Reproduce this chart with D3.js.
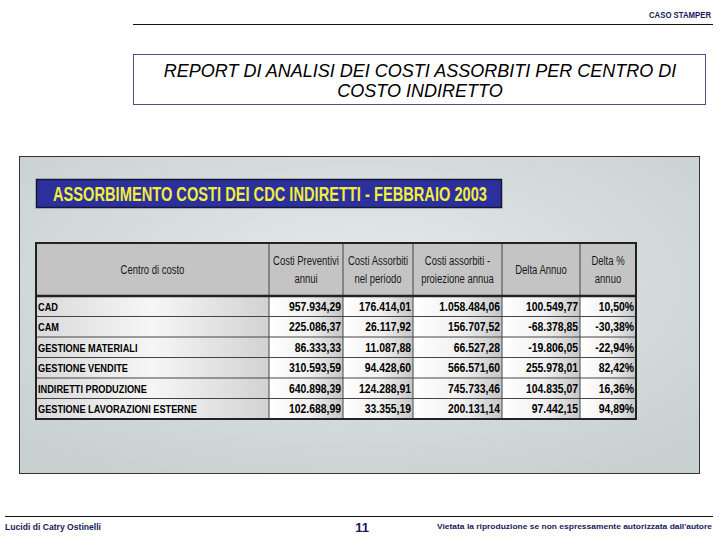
<!DOCTYPE html>
<html>
<head>
<meta charset="utf-8">
<script src="https://cdn.jsdelivr.net/npm/d3@7"></script>
<style>
  html, body { margin: 0; padding: 0; background: #fff; }
  svg { display: block; }
</style>
</head>
<body>
<svg id="slide"></svg>
<script>
// data
const slideTag = "CASO STAMPER"
const titleLines = ["REPORT DI ANALISI DEI COSTI ASSORBITI PER CENTRO DI", "COSTO INDIRETTO"]
const bannerText = "ASSORBIMENTO COSTI DEI CDC INDIRETTI - FEBBRAIO 2003"
const headers = [
  ["Centro di costo"],
  ["Costi Preventivi", "annui"],
  ["Costi Assorbiti", "nel periodo"],
  ["Costi assorbiti -", "proiezione annua"],
  ["Delta Annuo"],
  ["Delta %", "annuo"]
]
const centers = ["CAD", "CAM", "GESTIONE MATERIALI", "GESTIONE VENDITE", "INDIRETTI PRODUZIONE", "GESTIONE LAVORAZIONI ESTERNE"]
const costiPreventivi = [957934.29, 225086.37, 86333.33, 310593.59, 640898.39, 102688.99]
const costiAssorbiti = [176414.01, 26117.92, 11087.88, 94428.60, 124288.91, 33355.19]
const proiezioneAnnua = [1058484.06, 156707.52, 66527.28, 566571.60, 745733.46, 200131.14]
const deltaAnnuo = [100549.77, -68378.85, -19806.05, 255978.01, 104835.07, 97442.15]
const deltaPerc = [10.50, -30.38, -22.94, 82.42, 16.36, 94.89]
const footerLeft = "Lucidi di Catry Ostinelli"
const pageNumber = "11"
const footerRight = "Vietata la riproduzione se non espressamente autorizzata dall'autore"

const W = 720, H = 540
const svg = d3.select('#slide').attr('width', W).attr('height', H)
const defs = svg.append('defs')

const sans = '"Liberation Sans", Arial, sans-serif'

// italian number format, plain hyphen for negatives like the excel sheet
const it = d3.formatLocale({decimal: ',', thousands: '.', grouping: [3], currency: ['€', ''], minus: '-'})
const fmtNum = it.format(',.2f')
const fmtPct = v => it.format('.2f')(v) + '%'

// no Arial Narrow here: squeeze Arial-like glyphs horizontally
function condense(sel, k) {
  sel.each(function() {
    const w = this.getComputedTextLength()
    d3.select(this).attr('textLength', w * k).attr('lengthAdjust', 'spacingAndGlyphs')
  })
}
function fit(sel, w) {
  sel.attr('textLength', w).attr('lengthAdjust', 'spacingAndGlyphs')
}

// header ---------------------------------------------------------
svg.append('text')
  .attr('x', 711).attr('y', 18)
  .attr('text-anchor', 'end')
  .style('font-family', sans).style('font-weight', 'bold')
  .style('font-size', '8.5px').attr('fill', '#1a1a5a')
  .text(slideTag)
  .call(fit, 62)

svg.append('line')
  .attr('x1', 133).attr('x2', 713).attr('y1', 24.5).attr('y2', 24.5)
  .attr('stroke', '#111').attr('stroke-width', 1.2)

svg.append('rect')
  .attr('x', 133.5).attr('y', 54.5).attr('width', 572).attr('height', 50)
  .attr('fill', '#fff').attr('stroke', '#50507a').attr('stroke-width', 1)

svg.append('g').selectAll('text')
  .data(titleLines).enter()
  .append('text')
  .attr('x', 420).attr('y', (d, i) => 77 + i * 20)
  .attr('text-anchor', 'middle')
  .style('font-family', sans).style('font-style', 'italic')
  .style('font-size', '18px').attr('fill', '#000')
  .text(d => d)

// panel ----------------------------------------------------------
const bg = defs.append('radialGradient').attr('id', 'panelBg')
  .attr('cx', '0.5').attr('cy', '0.4').attr('r', '0.7')
bg.append('stop').attr('offset', '0%').attr('stop-color', '#e6eaea')
bg.append('stop').attr('offset', '100%').attr('stop-color', '#c8d0d0')

svg.append('rect')
  .attr('x', 19.5).attr('y', 156.5).attr('width', 680).attr('height', 317)
  .attr('fill', 'url(#panelBg)').attr('stroke', '#333').attr('stroke-width', 1)

// banner
svg.append('rect')
  .attr('x', 36.5).attr('y', 179.5).attr('width', 465).attr('height', 28)
  .attr('fill', '#2b309c').attr('stroke', '#15163a').attr('stroke-width', 1.5)

svg.append('text')
  .attr('x', 270).attr('y', 201)
  .attr('text-anchor', 'middle')
  .style('font-family', sans).style('font-weight', 'bold')
  .style('font-size', '20px').attr('fill', '#f2ee3c')
  .text(bannerText)
  .call(fit, 434)

// table ----------------------------------------------------------
const tableX = 36, tableRight = 636
const colWidths = [233, 74, 70, 89, 78, 56]
const colEdges = [tableX].concat(Array.from(d3.cumsum(colWidths), c => tableX + c))
const headTop = 243, headBottom = 296, tableBottom = 419

const y = d3.scaleBand().domain(centers).range([headBottom, tableBottom])

const rows = centers.map((c, i) => [
  c,
  fmtNum(costiPreventivi[i]),
  fmtNum(costiAssorbiti[i]),
  fmtNum(proiezioneAnnua[i]),
  fmtNum(deltaAnnuo[i]),
  fmtPct(deltaPerc[i])
])

const cellGrad = defs.append('linearGradient').attr('id', 'cellGrad')
  .attr('x1', '0').attr('x2', '1').attr('y1', '0').attr('y2', '0')
cellGrad.append('stop').attr('offset', '0%').attr('stop-color', '#ffffff')
cellGrad.append('stop').attr('offset', '55%').attr('stop-color', '#f0f0f0')
cellGrad.append('stop').attr('offset', '100%').attr('stop-color', '#c6c6c6')

const firstGrad = defs.append('linearGradient').attr('id', 'firstGrad')
  .attr('x1', '0').attr('x2', '1').attr('y1', '0').attr('y2', '0')
firstGrad.append('stop').attr('offset', '0%').attr('stop-color', '#dadada')
firstGrad.append('stop').attr('offset', '50%').attr('stop-color', '#f6f6f6')
firstGrad.append('stop').attr('offset', '100%').attr('stop-color', '#d2d2d2')

const table = svg.append('g')

// header cells
table.selectAll('rect.head')
  .data(headers).enter()
  .append('rect').attr('class', 'head')
  .attr('x', (d, i) => colEdges[i]).attr('y', headTop)
  .attr('width', (d, i) => colWidths[i]).attr('height', headBottom - headTop)
  .attr('fill', '#c4c4c4')

table.selectAll('text.head')
  .data(headers).enter()
  .append('text').attr('class', 'head')
  .attr('x', (d, i) => colEdges[i] + colWidths[i] / 2)
  .attr('y', d => d.length === 1 ? 274 : 265)
  .attr('text-anchor', 'middle')
  .style('font-family', sans).style('font-size', '12px').attr('fill', '#1a1a1a')
  .each(function(d) {
    const cx = d3.select(this).attr('x')
    d3.select(this).selectAll('tspan').data(d).enter()
      .append('tspan')
      .attr('x', cx)
      .attr('dy', (t, j) => j === 0 ? 0 : 18)
      .text(t => t)
      .call(condense, 0.79)
  })

// body cells
const rowG = table.selectAll('g.row')
  .data(rows).enter()
  .append('g').attr('class', 'row')
  .attr('transform', d => `translate(0,${y(d[0])})`)

rowG.selectAll('rect')
  .data(d => d).enter()
  .append('rect')
  .attr('x', (d, i) => colEdges[i]).attr('y', 0)
  .attr('width', (d, i) => colWidths[i]).attr('height', y.bandwidth())
  .attr('fill', (d, i) => i === 0 ? 'url(#firstGrad)' : 'url(#cellGrad)')

rowG.selectAll('text')
  .data(d => d).enter()
  .append('text')
  .attr('x', (d, i) => i === 0 ? colEdges[0] + 2 : colEdges[i + 1] - 2)
  .attr('y', y.bandwidth() / 2 + 4.5)
  .attr('text-anchor', (d, i) => i === 0 ? 'start' : 'end')
  .style('font-family', sans).style('font-weight', 'bold')
  .style('font-size', (d, i) => i === 0 ? '11.5px' : '13px')
  .attr('fill', '#000')
  .text(d => d)
  .call(condense, 0.8)

// grid lines
table.selectAll('line.row')
  .data(centers.slice(1)).enter()
  .append('line').attr('class', 'row')
  .attr('x1', tableX).attr('x2', tableRight)
  .attr('y1', d => y(d)).attr('y2', d => y(d))
  .attr('stroke', '#444').attr('stroke-width', 1)

table.selectAll('line.col')
  .data(colEdges.slice(1, -1)).enter()
  .append('line').attr('class', 'col')
  .attr('x1', d => d).attr('x2', d => d)
  .attr('y1', headTop).attr('y2', tableBottom)
  .attr('stroke', '#444').attr('stroke-width', 1)

table.append('line')
  .attr('x1', tableX).attr('x2', tableRight)
  .attr('y1', headBottom).attr('y2', headBottom)
  .attr('stroke', '#222').attr('stroke-width', 2.5)

table.append('rect')
  .attr('x', tableX).attr('y', headTop)
  .attr('width', tableRight - tableX).attr('height', tableBottom - headTop)
  .attr('fill', 'none').attr('stroke', '#222').attr('stroke-width', 2)

// footer ---------------------------------------------------------
svg.append('line')
  .attr('x1', 5).attr('x2', 713).attr('y1', 516.5).attr('y2', 516.5)
  .attr('stroke', '#111').attr('stroke-width', 1.2)

svg.append('text')
  .attr('x', 5).attr('y', 530)
  .style('font-family', sans).style('font-weight', 'bold')
  .style('font-size', '8.5px').attr('fill', '#1a1a5a')
  .text(footerLeft)
  .call(fit, 96)

svg.append('text')
  .attr('x', 362).attr('y', 532)
  .attr('text-anchor', 'middle')
  .style('font-family', sans).style('font-weight', 'bold')
  .style('font-size', '13px').attr('fill', '#1a1a5a')
  .text(pageNumber)

svg.append('text')
  .attr('x', 712).attr('y', 529)
  .attr('text-anchor', 'end')
  .style('font-family', sans).style('font-weight', 'bold')
  .style('font-size', '8px').attr('fill', '#1a1a5a')
  .text(footerRight)
  .call(fit, 275)
</script>
</body>
</html>
